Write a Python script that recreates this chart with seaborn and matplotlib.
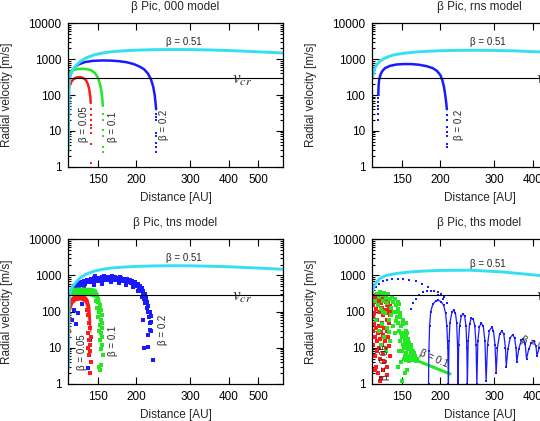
import numpy as np
import seaborn as sns
import matplotlib.pyplot as plt
from matplotlib.ticker import FixedLocator, LogLocator, NullFormatter, NullLocator

sns.set_theme(style="ticks")
plt.rcParams['font.family'] = ['Liberation Sans', 'DejaVu Sans']
plt.rcParams['mathtext.fontset'] = 'stix'

CYAN = '#33dff0'
BLUE = '#1a1aff'
GREEN = '#22e822'
RED = '#ff1a1a'

x_ticks = [150, 200, 300, 400, 500]
x_tick_labels = ['150', '200', '300', '400', '500']
y_ticks = [1, 10, 100, 1000, 10000]
y_tick_labels = ['1', '10', '100', '1000', '10000']
v_cr = 290

# ---- 000 model ----
cyan_000_x = [120, 120.3, 120.6, 121, 122, 124, 127, 131, 137, 145, 155, 165, 180, 200, 230, 260, 300, 350, 400, 450, 500, 550, 600]
cyan_000_y = [2.6, 20, 100, 250, 380, 500, 650, 850, 1080, 1300, 1480, 1600, 1700, 1780, 1840, 1860, 1850, 1800, 1740, 1670, 1600, 1540, 1480]
blue_000_x = [120, 121, 123, 126, 130, 136, 145, 155, 165, 175, 186, 196, 205, 212, 218, 223, 227, 229.5, 231, 232]
blue_000_y = [150, 300, 450, 600, 720, 830, 900, 920, 910, 880, 820, 730, 620, 520, 400, 280, 170, 100, 60, 40]
blue_000_tail = [30, 25, 20, 8.5, 7, 4.5, 3.5, 2.5]
green_000_x = [120, 122, 125, 129, 134, 139, 143, 147, 150, 152.5, 154, 155, 155.5]
green_000_y = [380, 450, 500, 530, 540, 520, 480, 400, 300, 190, 120, 75, 50]
green_000_tail = [30, 20, 10.5, 7, 3.6, 2.6]
red_000_x = [120, 121, 123, 125, 128, 131, 134, 137, 139, 140.5, 141.5, 142]
red_000_y = [120, 180, 240, 280, 310, 315, 300, 260, 200, 140, 90, 60]
red_000_tail = [40, 28, 20, 15, 12, 8.5, 4.3, 1.3]

# ---- rns model ----
cyan_rns_x = [120, 121, 122, 124, 127, 132, 140, 151, 165, 180, 200, 230, 260, 300, 350, 400, 450, 500, 550, 600]
cyan_rns_y = [300, 420, 540, 700, 880, 1080, 1300, 1450, 1570, 1650, 1720, 1760, 1770, 1750, 1700, 1620, 1560, 1500, 1450, 1400]
blue_rns_x = [125.5, 125.8, 126.3, 127.5, 129, 132, 137, 144, 152, 160, 170, 180, 189, 195, 200, 203, 205.5, 207.5, 209, 210]
blue_rns_y = [100, 180, 260, 360, 450, 560, 650, 710, 730, 730, 700, 640, 560, 470, 360, 260, 170, 100, 60, 40]
blue_rns_head = [80, 65, 50, 40, 30, 20]
blue_rns_tail = [28, 20, 13, 9.5, 7, 4.3, 3.5]

# ---- tns model ----
blue_tns_pts = [
    (121, 120), (122, 200), (123, 330), (124, 420), (125, 500), (126, 380), (127, 560), (128, 470),
    (129, 620), (130, 520), (132, 680), (133, 560), (135, 720), (136, 600), (138, 760), (140, 640),
    (142, 800), (144, 660), (146, 830), (148, 700), (150, 860), (152, 720), (154, 880), (156, 740),
    (158, 900), (160, 760), (162, 910), (164, 780), (166, 900), (168, 770), (170, 890), (172, 760),
    (174, 870), (176, 740), (178, 850), (180, 720), (182, 820), (184, 690), (186, 790), (188, 650),
    (190, 750), (192, 610), (194, 700), (196, 560), (198, 640), (200, 500), (202, 580), (204, 430),
    (205, 520), (207, 370), (208, 450), (210, 300), (211, 380), (212, 230), (213, 300), (214, 170),
    (215, 240), (216, 130), (217, 190), (218, 95), (219, 140), (220, 70), (221, 100), (222, 50),
    (223, 75), (224, 30), (135, 480), (145, 560), (155, 600), (165, 640), (175, 620), (185, 560),
    (195, 480), (203, 380), (209, 260), (213, 200), (157, 980), (147, 940), (167, 960), (177, 930),
    (123, 60), (125, 110), (127.6, 47), (129, 89), (131, 234), (128, 300), (133, 160), (141, 16),
    (139.6, 2.7), (212, 9.7), (218, 10.7), (226, 4.6), (222, 31), (224, 53), (210, 60), (219, 22),
]
green_tns_x = [120, 123, 128, 135, 142, 146, 148, 150, 152, 153.5]
green_tns_hi = [430, 470, 480, 480, 470, 450, 420, 330, 220, 130]
green_tns_lo = [300, 290, 280, 280, 270, 250, 210, 140, 100, 80]
green_tns_pts = [
    (148, 200), (150, 180), (152, 150), (149, 130), (153, 110), (151, 95), (154, 80), (150, 70),
    (153, 60), (155, 50), (152, 42), (154, 35), (151, 30), (153, 25), (155, 20), (152, 16),
    (154, 12), (153, 9), (155.5, 6.3), (150.7, 3), (153, 3.3), (152, 2.4),
]
red_tns_x = [120.5, 122, 124, 127, 131, 135, 137, 139, 141, 142]
red_tns_hi = [200, 250, 280, 300, 300, 290, 270, 230, 150, 60]
red_tns_lo = [100, 110, 170, 200, 210, 190, 140, 60, 30, 25]
red_tns_pts = [
    (140, 50), (141, 35), (139, 25), (142, 20), (140, 16), (141, 12), (139.5, 10), (141.5, 8),
    (140.5, 6.3), (142, 4), (141.5, 2.0), (138, 110), (139, 80), (121, 60), (120.5, 30),
]

# ---- ths model ----
cyan_ths_x = [120, 121, 123, 127, 133, 144, 158, 172, 200, 250, 320, 420, 500, 600]
cyan_ths_y = [320, 450, 600, 830, 1000, 1140, 1240, 1310, 1380, 1400, 1250, 1000, 880, 780]
blue_ths_arch_pts = [
    (121, 350), (123, 480), (126, 600), (130, 700), (134, 760), (139, 790), (145, 800), (151, 800),
    (158, 770), (166, 700), (174, 600), (182, 490), (190, 380), (197, 290), (204, 220), (210, 170),
    (160, 120), (163, 170), (167, 230), (171, 290), (176, 340), (181, 370), (186, 380), (191, 370),
    (196, 340), (201, 300), (206, 250),
]
blue_ths_x = [183, 183.5, 184.5, 186, 189, 193, 197, 201, 205, 208, 210, 211.5, 212.5,
              213.5, 215, 218, 221, 224, 226, 227.5, 228.5,
              229.5, 231, 234, 237, 240, 242.5, 244, 245,
              246.5, 249, 252, 256, 259, 261.5, 263,
              265, 268, 272, 276, 279.5, 282,
              285, 289, 294, 298, 301.5, 304,
              307, 312, 317, 322, 326, 328,
              332, 338, 344, 349, 353, 355,
              360, 367, 373, 378, 382,
              388, 396, 404, 410, 413,
              420, 430, 440, 446,
              455, 465, 475, 481,
              500, 520, 540, 560, 580, 600]
blue_ths_y = [1, 8, 40, 100, 160, 195, 205, 190, 150, 90, 40, 10, 1,
              15, 50, 95, 110, 90, 50, 12, 1,
              12, 40, 75, 88, 75, 40, 10, 1,
              15, 45, 65, 62, 40, 12, 1,
              15, 38, 48, 40, 15, 1.2,
              12, 30, 37, 30, 12, 2,
              10, 24, 29, 24, 10, 3,
              9, 19, 23, 19, 10, 4,
              9, 16, 18, 13, 5,
              9, 14, 15, 11, 6,
              10, 13, 11, 6.5,
              10, 12, 10, 7,
              10, 8, 10, 8, 9, 8]
green_ths_pts = [
    (122, 200), (124, 300), (125, 150), (126, 250), (127, 350), (128, 120), (129, 280), (130, 200),
    (131, 320), (132, 90), (133, 240), (134, 170), (135, 300), (136, 60), (137, 220), (138, 130),
    (139, 260), (140, 180), (141, 100), (142, 230), (143, 150), (144, 70), (145, 190), (146, 120),
    (147, 160), (148, 90), (123, 60), (126, 30), (129, 45), (131, 20), (134, 35), (137, 15),
    (140, 40), (142, 25), (128, 12), (133, 8), (136, 28), (130, 100), (138, 80), (143, 55),
    (145, 100), (148, 70), (151, 45), (154, 30), (157, 18), (160, 12), (164, 7), (168, 5),
    (146, 3), (149, 4), (152, 5), (155, 4.5), (158, 4.2), (162, 4.5), (166, 4.2),
    (147, 30), (148, 15), (149, 40), (150, 8), (150, 20), (151, 12), (152, 25), (153, 6),
    (153, 15), (154, 10), (155, 20), (155, 7), (156, 12), (157, 5.5), (157, 9), (158, 14),
    (159, 6), (159, 9), (160, 7), (161, 5), (161, 10), (162, 6.5), (163, 8), (163, 5),
    (165, 6), (146, 50), (147, 8), (149, 25), (151, 60), (152, 10), (154, 50), (156, 25),
    (150, 1.2), (153, 2), (156, 2.5),
]
green_ths_line_x = [166, 215]
green_ths_line_y = [4.6, 1.9]
red_ths_pts = [
    (120.5, 150), (121, 220), (121.5, 90), (122, 260), (122.5, 180), (123, 120), (123.5, 280), (124, 200),
    (124.5, 60), (125, 240), (125.5, 150), (126, 300), (126.5, 100), (127, 210), (127.5, 270), (128, 40),
    (128.5, 170), (129, 250), (129.5, 130), (130, 290), (130.5, 80), (131, 200), (131.5, 260), (132, 110),
    (132.5, 180), (133, 230), (133.5, 60), (134, 150), (134.5, 210), (135, 90), (135.5, 170), (136, 120),
    (136.5, 50), (137, 140), (137.5, 80), (138, 100), (120.5, 30), (121, 12), (121.5, 45), (122, 6),
    (122.5, 20), (123, 3), (123.5, 35), (124, 15), (124.5, 8), (125, 25), (125.5, 2), (126, 40),
    (126.5, 10), (127, 18), (127.5, 5), (128, 28), (128.5, 1.5), (129, 12), (129.5, 50), (130, 7),
    (130.5, 22), (131, 35), (131.5, 4), (132, 15), (133, 9), (134, 30), (134.5, 3), (135, 20),
    (136, 11), (137, 6), (120.8, 70), (122.2, 2.5), (126.8, 1.2), (129.8, 2.5), (133.8, 1.8),
]


def curve(ax, x, y, color, lw=1.8, ls='-'):
    sns.lineplot(x=x, y=y, ax=ax, color=color, lw=lw, ls=ls, sort=False, estimator=None)


def dots(ax, x, y, color, s=4):
    sns.scatterplot(x=x, y=y, ax=ax, color=color, s=s, marker='s', linewidth=0)


def dots_pts(ax, pts, color, s=4):
    p = np.array(pts, dtype=float)
    dots(ax, p[:, 0], p[:, 1], color, s)


def beta_text(ax, x, y, s, rot=90, ha='center'):
    ax.text(x, y, s, rotation=rot, ha=ha, va='center', fontsize=7, rotation_mode='anchor')


def style(ax, title):
    ax.set_xscale('log')
    ax.set_yscale('log')
    ax.set_xlim(120, 600)
    ax.set_ylim(1, 10000)
    ax.xaxis.set_major_locator(FixedLocator(x_ticks))
    ax.xaxis.set_minor_locator(NullLocator())
    ax.set_xticklabels(x_tick_labels)
    ax.yaxis.set_major_locator(FixedLocator(y_ticks))
    ax.yaxis.set_minor_locator(LogLocator(base=10, subs=np.arange(2, 10)))
    ax.yaxis.set_minor_formatter(NullFormatter())
    ax.set_yticklabels(y_tick_labels)
    ax.tick_params(which='both', direction='in', top=True, right=True, colors='black',
                   width=0.8, labelsize=8.5, pad=5)
    ax.tick_params(which='major', length=5)
    ax.tick_params(which='minor', length=2.5)
    for sp in ax.spines.values():
        sp.set_color('black')
        sp.set_linewidth(0.9)
    ax.set_xlabel('Distance [AU]', fontsize=8.5, va='center')
    ax.set_ylabel('Radial velocity [m/s]', fontsize=8.5, va='center')
    ax.xaxis.set_label_coords(0.5, -0.215)
    ax.yaxis.set_label_coords(-0.285, 0.5)
    ax.text(0.5, 1.115, title, transform=ax.transAxes, ha='center', va='center', fontsize=8.5)
    ax.axhline(v_cr, color='black', lw=0.8)
    ax.text(411, 250, r'$v_{cr}$', fontsize=12.5, ha='left', va='center')


fig = plt.figure(figsize=(5.4, 4.21), dpi=100)
W, H = 214.4 / 540, 143.4 / 421
ax1 = fig.add_axes([68.3 / 540, 1 - 166.7 / 421, W, H])
ax2 = fig.add_axes([372.3 / 540, 1 - 166.7 / 421, W, H])
ax3 = fig.add_axes([68.3 / 540, 1 - 384 / 421, W, 144.7 / 421])
ax4 = fig.add_axes([372.3 / 540, 1 - 384 / 421, W, 144.7 / 421])

# panel 1
curve(ax1, blue_000_x, blue_000_y, BLUE)
dots(ax1, [232] * len(blue_000_tail), blue_000_tail, BLUE)
curve(ax1, green_000_x, green_000_y, GREEN)
dots(ax1, [156] * len(green_000_tail), green_000_tail, GREEN)
curve(ax1, red_000_x, red_000_y, RED)
dots(ax1, [142] * len(red_000_tail), red_000_tail, RED)
curve(ax1, cyan_000_x, cyan_000_y, CYAN, lw=2.1)
style(ax1, 'β Pic, 000 model')
ax1.text(286, 3000, 'β = 0.51', ha='center', va='center', fontsize=7)
beta_text(ax1, 135, 15, 'β = 0.05')
beta_text(ax1, 168, 13, 'β = 0.1')
beta_text(ax1, 246, 14.5, 'β = 0.2')

# panel 2
curve(ax2, blue_rns_x, blue_rns_y, BLUE)
dots(ax2, [125.5] * len(blue_rns_head), blue_rns_head, BLUE)
dots(ax2, [210] * len(blue_rns_tail), blue_rns_tail, BLUE)
curve(ax2, cyan_rns_x, cyan_rns_y, CYAN, lw=2.1)
style(ax2, 'β Pic, rns model')
ax2.text(286, 3000, 'β = 0.51', ha='center', va='center', fontsize=7)
beta_text(ax2, 230, 14.5, 'β = 0.2')

# panel 3
dots_pts(ax3, blue_tns_pts, BLUE, s=5)
ax3.fill_between(green_tns_x, green_tns_lo, green_tns_hi, color=GREEN, lw=0)
dots_pts(ax3, green_tns_pts, GREEN, s=5)
ax3.fill_between(red_tns_x, red_tns_lo, red_tns_hi, color=RED, lw=0)
dots_pts(ax3, red_tns_pts, RED, s=5)
curve(ax3, cyan_000_x, cyan_000_y, CYAN, lw=2.1)
style(ax3, 'β Pic, tns model')
ax3.text(286, 2950, 'β = 0.51', ha='center', va='center', fontsize=7)
beta_text(ax3, 132.8, 7.8, 'β = 0.05')
beta_text(ax3, 168, 15.5, 'β = 0.1')
beta_text(ax3, 245, 31, 'β = 0.2')

# panel 4
dots_pts(ax4, red_ths_pts, RED, s=5)
dots_pts(ax4, green_ths_pts, GREEN, s=5)
curve(ax4, green_ths_line_x, green_ths_line_y, GREEN, lw=2.2)
curve(ax4, blue_ths_x, blue_ths_y, BLUE, lw=0.9)
dots(ax4, blue_ths_x, blue_ths_y, BLUE, s=4)
dots_pts(ax4, blue_ths_arch_pts, BLUE, s=4)
curve(ax4, cyan_ths_x, cyan_ths_y, CYAN, lw=2.1)
style(ax4, 'β Pic, ths model')
ax4.text(286, 2030, 'β = 0.51', ha='center', va='center', fontsize=7)
beta_text(ax4, 132, 4.0, 'β = 0.05')
beta_text(ax4, 172, 7.5, 'β = 0.1', rot=-24, ha='left')
beta_text(ax4, 368, 17, 'β = 0.2', rot=-20, ha='left')

fig.savefig('out.png', dpi=100)
